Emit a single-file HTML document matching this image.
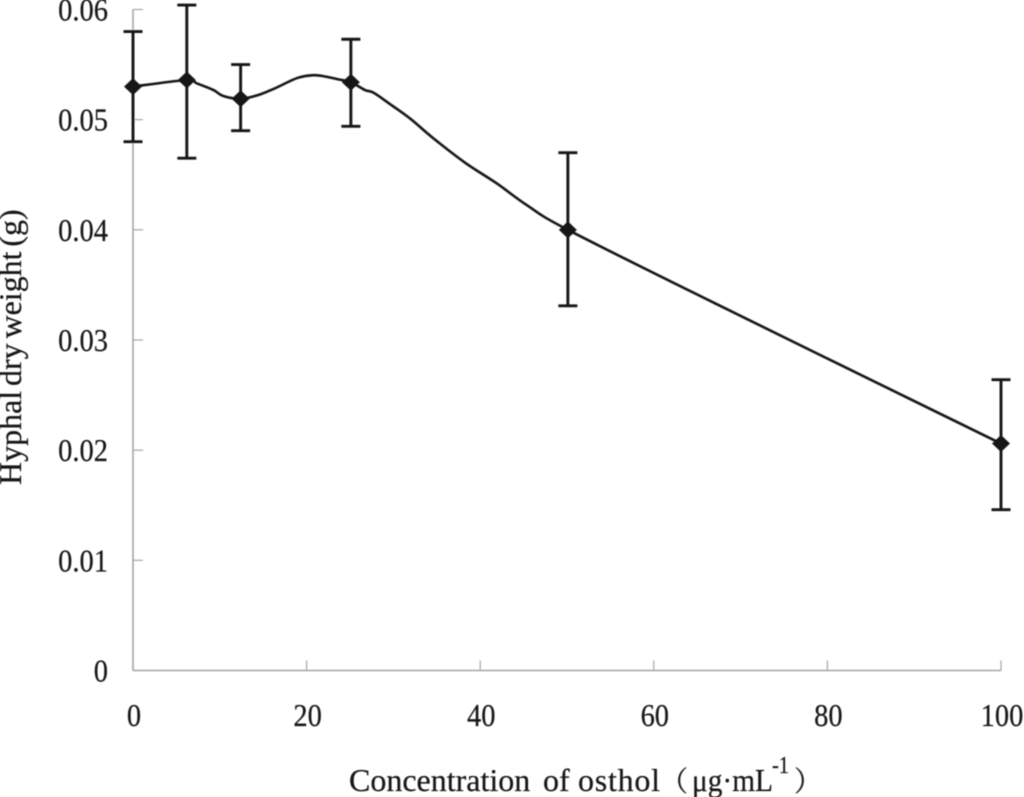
<!DOCTYPE html>
<html lang="en">
<head>
<meta charset="utf-8">
<title>Hyphal dry weight vs osthol concentration</title>
<style>
html,body{margin:0;padding:0;background:#fff;}
svg{display:block;}
text{font-family:"Liberation Serif","Noto Serif CJK SC",serif;fill:#141414;stroke:#141414;stroke-width:0.2;}
</style>
</head>
<body>
<svg id="chart" xmlns="http://www.w3.org/2000/svg" width="1024" height="797" viewBox="0 0 1024 797">
<defs><filter id="soft" x="-5%" y="-5%" width="110%" height="110%"><feGaussianBlur stdDeviation="0.4"/></filter></defs>
<rect width="1024" height="797" fill="#fff"/>
<g id="root" filter="url(#soft)">
<text transform="translate(21,485) rotate(-90)" font-size="32" word-spacing="-3.2">Hyphal dry weight (g)</text>
<g>
<text x="349" y="791" font-size="32">Concentration</text>
<text x="543" y="791" font-size="32">of</text>
<text x="578" y="791" font-size="32" textLength="82" lengthAdjust="spacing">osthol</text>
<text x="660" y="791" font-size="28">（</text>
<text x="692" y="791" font-size="32" textLength="81" lengthAdjust="spacingAndGlyphs">μg·mL</text>
<text x="772" y="773" font-size="24" textLength="17" lengthAdjust="spacingAndGlyphs">-1</text>
<text x="794" y="791" font-size="28">）</text>
</g>
</g>
</svg>
<script>
const concentrations = [0, 6.2, 12.4, 25.1, 50.1, 100];
const meanWeights = [0.053, 0.0536, 0.0519, 0.0534, 0.04, 0.0206];
const upperBounds = [0.058, 0.0604, 0.055, 0.0573, 0.047, 0.0264];
const lowerBounds = [0.048, 0.0465, 0.049, 0.0494, 0.0331, 0.0146];
const curveBetweenX = [7.34, 9.25, 10.4, 14.44, 16.36, 19.04, 21.16, 23.65, 26.73, 27.7, 29.6, 31.9, 34.6, 38.25, 41.9, 45.36, 67.2];
const curveBetweenY = [0.0533, 0.0527, 0.05215, 0.05224, 0.05285, 0.05381, 0.05403, 0.05366, 0.05269, 0.05245, 0.05142, 0.05012, 0.04831, 0.0461, 0.04422, 0.04225, 0.03327];
const xTicks = [0, 20, 40, 60, 80, 100];
const yTicks = [0, 0.01, 0.02, 0.03, 0.04, 0.05, 0.06];
const yTickLabels = ['0', '0.01', '0.02', '0.03', '0.04', '0.05', '0.06'];

const NS = 'http://www.w3.org/2000/svg';
const root = document.getElementById('root');
const X0 = 133, X1 = 1001, Y0 = 670.5, Y1 = 9.5;
const sx = v => X0 + (v - 0) / 100 * (X1 - X0);
const sy = v => Y0 - (v - 0) / 0.06 * (Y0 - Y1);

function mk(tag, attrs, parent) {
  const el = document.createElementNS(NS, tag);
  for (const k in attrs) el.setAttribute(k, attrs[k]);
  (parent || root).appendChild(el);
  return el;
}

const AXIS = '#a6a6a6', INK = '#141414';

const yLine = mk('line', {x1: X0, x2: X0, y1: Y1, y2: Y0, stroke: AXIS, 'stroke-width': 1.6});


const xLine = mk('line', {x1: X0, x2: X1, y1: Y0, y2: Y0, stroke: AXIS, 'stroke-width': 1.6});



yTicks.forEach((t, i) => {
  const y = sy(t);
  const tick = mk('line', {x1: X0, x2: X0 + 10, y1: y, y2: y, stroke: AXIS, 'stroke-width': 1.2});
  
  
  const label = mk('text', {transform: `translate(108,${y + 11}) scale(0.89,1)`, 'text-anchor': 'end', 'font-size': 32});
  
  
  label.textContent = yTickLabels[i];
});

xTicks.forEach(t => {
  const x = sx(t);
  const tick = mk('line', {x1: x, x2: x, y1: Y0 - 10, y2: Y0, stroke: AXIS, 'stroke-width': 1.2});
  
  
  const label = mk('text', {transform: `translate(${x + 1},726) scale(0.89,1)`, 'text-anchor': 'middle', 'font-size': 32});
  
  
  label.textContent = String(t);
});

/* smoothed line through the data points and the in-between readings */
const curveData = concentrations.map((c, i) => [c, meanWeights[i]])
  .concat(curveBetweenX.map((c, i) => [c, curveBetweenY[i]]))
  .sort((a, b) => a[0] - b[0]);
const pts = curveData.map(p => [sx(p[0]), sy(p[1])]);
let d = `M${pts[0][0]} ${pts[0][1]}`;
for (let i = 0; i < pts.length - 1; i++) {
  const p0 = pts[Math.max(i - 1, 0)], p1 = pts[i], p2 = pts[i + 1], p3 = pts[Math.min(i + 2, pts.length - 1)];
  const c1x = p1[0] + (p2[0] - p0[0]) / 6, c1y = p1[1] + (p2[1] - p0[1]) / 6;
  const c2x = p2[0] - (p3[0] - p1[0]) / 6, c2y = p2[1] - (p3[1] - p1[1]) / 6;
  d += `C${c1x} ${c1y} ${c2x} ${c2y} ${p2[0]} ${p2[1]}`;
}
const curve = mk('path', {d: d, fill: 'none', stroke: INK, 'stroke-width': 2.6, 'stroke-linejoin': 'round'});



concentrations.forEach((c, i) => {
  const x = sx(c), yu = sy(upperBounds[i]), yl = sy(lowerBounds[i]), ym = sy(meanWeights[i]);
  const bar = mk('path', {
    d: `M${x} ${yu}V${yl}M${x - 9.5} ${yu}H${x + 9.5}M${x - 9.5} ${yl}H${x + 9.5}`,
    fill: 'none', stroke: INK, 'stroke-width': 2.9
  });
  
  
  const marker = mk('path', {
    d: `M${x} ${ym - 8.5}L${x + 9} ${ym}L${x} ${ym + 8.5}L${x - 9} ${ym}Z`,
    fill: INK
  });
  
  
});
</script>
</body>
</html>
